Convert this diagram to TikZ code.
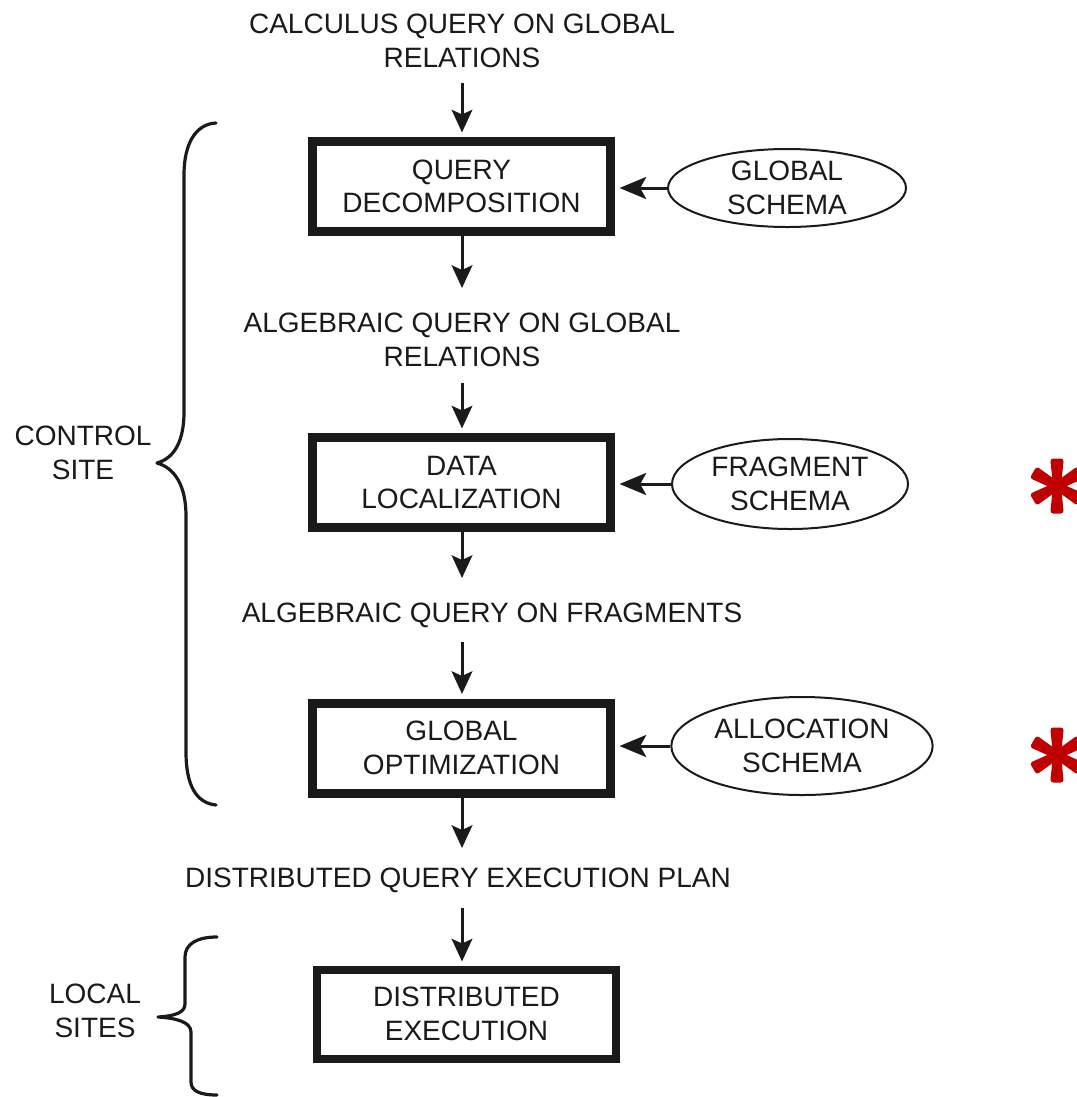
\documentclass[tikz,border=0pt]{standalone}
\usepackage{fontspec}
\setmainfont{Liberation Sans}
\usetikzlibrary{arrows.meta,shapes.geometric,calc}
\definecolor{ink}{HTML}{1A1A1A}
\definecolor{starred}{HTML}{C00000}

\begin{document}
\begin{tikzpicture}[x=0.75pt,y=-0.75pt,
  every node/.style={font=\fontsize{21}{25}\selectfont, text=ink, align=center, inner sep=0pt},
  stage/.style={draw=ink, line width=6.75pt, minimum width=223.5pt, minimum height=67.5pt},
  schema/.style={ellipse, draw=ink, line width=1.5pt},
  flow/.style={draw=ink, line width=2.25pt, -{Stealth[length=17pt,width=15.5pt,inset=3.5pt]}},
  feed/.style={draw=ink, line width=2.25pt, -{Stealth[length=20pt,width=16.5pt,inset=4.5pt]}},
  brace/.style={draw=ink, line width=2.4pt, line cap=round, line join=round}]
\useasboundingbox (0,0) rectangle (1076,1097);

% processing stages
\node[stage] (b1) at (461.5,186.5) {QUERY\\DECOMPOSITION};
\node[stage] (b2) at (461.5,482.5) {DATA\\LOCALIZATION};
\node[stage] (b3) at (461.5,748) {GLOBAL\\OPTIMIZATION};
\node[stage, line width=6pt, minimum width=224.25pt, minimum height=66.75pt] (b4) at (466.5,1014) {DISTRIBUTED\\EXECUTION};

% schemas feeding the stages
\node[schema, minimum width=178.5pt, minimum height=58.5pt] (e1) at (787,188) {GLOBAL\\SCHEMA};
\node[schema, minimum width=177pt, minimum height=67.5pt] (e2) at (790,484) {FRAGMENT\\SCHEMA};
\node[schema, minimum width=196pt, minimum height=73.5pt] (e3) at (802,746) {ALLOCATION\\SCHEMA};

% intermediate query forms
\node (t1) at (462,41) {CALCULUS QUERY ON GLOBAL\\RELATIONS};
\node (t2) at (462,340) {ALGEBRAIC QUERY ON GLOBAL\\RELATIONS};
\node (t3) at (492,615) {ALGEBRAIC QUERY ON FRAGMENTS};
\node (t4) at (458,880) {DISTRIBUTED QUERY EXECUTION PLAN};

% site labels
\node (cs) at (83,453) {CONTROL\\SITE};
\node (ls) at (95,1011) {LOCAL\\SITES};

% arrow end points in the free space around the texts
\coordinate (a0) at (462,83);
\coordinate (a1) at (462,288);
\coordinate (a2) at (462,383);
\coordinate (a3) at (462,578);
\coordinate (a4) at (462,642);
\coordinate (a5) at (462,848);
\coordinate (a6) at (462,908);

% main flow
\draw[flow, shorten >=3.4pt] (a0) -- (a0 |- b1.north);
\draw[flow] (b1.south -| a1) -- (a1);
\draw[flow, shorten >=3.4pt] (a2) -- (a2 |- b2.north);
\draw[flow] (b2.south -| a3) -- (a3);
\draw[flow, shorten >=3.4pt] (a4) -- (a4 |- b3.north);
\draw[flow] (b3.south -| a5) -- (a5);
\draw[flow, shorten >=3pt] (a6) -- (a6 |- b4.north);

% schema inputs
\draw[feed, shorten >=3.4pt] (e1.west) -- (e1.west -| b1.east);
\draw[feed, shorten >=3.4pt] (e2.west) -- (e2.west -| b2.east);
\draw[feed, shorten >=3.4pt] (e3.west) -- (e3.west -| b3.east);

% braces grouping the stages by site
\draw[brace] (216,123) .. controls (196,124) and (184,143) .. (184,175)
  -- (184,412) .. controls (184,440) and (175,458) .. (157,463)
  .. controls (175,468) and (186,486) .. (186,516)
  -- (186,752) .. controls (186,785) and (196,803) .. (216,805);
\draw[brace] (217,937) .. controls (197,937) and (185,944) .. (185,957)
  -- (185,1004) .. controls (185,1012) and (176,1016) .. (158,1017)
  .. controls (176,1018) and (191,1022) .. (191,1032)
  -- (191,1082) .. controls (191,1091) and (200,1095) .. (217,1095);

% red asterisks: six tapered arms with rounded square ends
\foreach \cy in {486,755} {
  \coordinate (s) at (1057,\cy);
  \foreach \a in {90,30,-30,-90,-150,150} {
    \fill[starred, rounded corners=2.2pt] ($(s)+(\a-90:4)$) -- ($(s)+(\a:27.5)+(\a-90:6.8)$)
      -- ($(s)+(\a:27.5)+(\a+90:6.8)$) -- ($(s)+(\a+90:4)$) -- cycle;
  }
  \fill[starred] (s) circle[radius=4pt];
}
\end{tikzpicture}
\end{document}
